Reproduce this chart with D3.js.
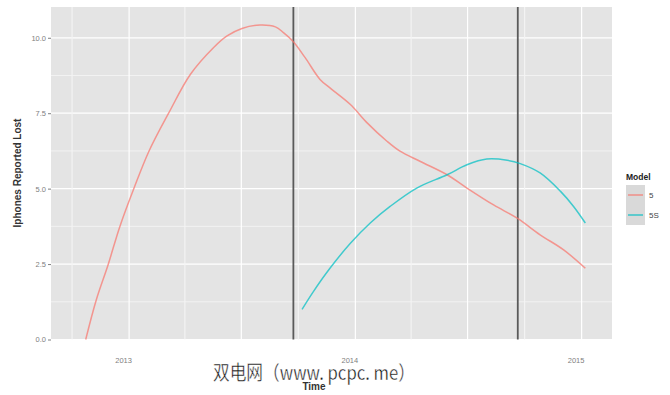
<!DOCTYPE html>
<html><head><meta charset="utf-8">
<script src="https://cdn.jsdelivr.net/npm/d3@7/dist/d3.min.js"></script>
<style>body{margin:0;background:#fff}svg{display:block}</style>
</head><body>
<svg id="c" width="670" height="395"></svg>
<script>
// ---- data ----
const modelNames = ["5", "5S"];
const model5Dates = ["2012-10-23","2012-11-09","2012-11-28","2012-12-17","2013-01-09","2013-02-02","2013-03-06","2013-04-10","2013-05-17","2013-06-08","2013-07-02","2013-07-31","2013-08-25","2013-09-07","2013-09-23","2013-10-12","2013-11-05","2013-11-21","2013-12-24","2014-01-20","2014-02-21","2014-03-14","2014-04-16","2014-05-29","2014-06-30","2014-08-12","2014-09-19","2014-10-26","2014-12-03","2015-01-07"];
const model5Values = [0.0,1.31,2.47,3.74,5.02,6.24,7.51,8.79,9.67,10.06,10.31,10.42,10.36,10.17,9.87,9.34,8.62,8.34,7.79,7.18,6.57,6.24,5.90,5.46,5.02,4.46,4.02,3.47,2.97,2.36];
const model5SDates = ["2013-10-07","2013-10-25","2013-11-21","2013-12-24","2014-01-25","2014-02-26","2014-04-10","2014-05-29","2014-06-30","2014-08-01","2014-09-03","2014-09-24","2014-10-26","2014-11-28","2014-12-19","2015-01-07"];
const model5SValues = [1.00,1.58,2.36,3.19,3.86,4.41,5.02,5.46,5.79,5.98,5.94,5.83,5.52,4.91,4.41,3.86];
const releaseDates = ["2013-09-23","2014-09-20"];
const yTicks = [0, 2.5, 5, 7.5, 10];
const xTickLabels = ["2013", "2014", "2015"];

// ---- layout ----
const svg = d3.select("#c");
const L = 51, R = 612, T = 7, B = 339.5;
const parse = d3.utcParse("%Y-%m-%d");
const x = d3.scaleUtc().domain([parse("2012-08-28"), parse("2015-02-19")]).range([L, R]);
const y = d3.scaleLinear().domain([0, 11.02]).range([B, T]);
const color = d3.scaleOrdinal().domain(modelNames).range(["#F8766D", "#00BFC4"]);

svg.append("rect").attr("x", L).attr("y", T).attr("width", R - L).attr("height", B - T).attr("fill", "#e4e4e4");

// grid
const minorY = d3.range(1.25, 11, 2.5);
svg.append("g").selectAll("line").data(minorY).join("line")
  .attr("x1", L).attr("x2", R).attr("y1", d => y(d)).attr("y2", d => y(d))
  .attr("stroke", "#f2f2f2").attr("stroke-width", 1);
svg.append("g").selectAll("line").data(yTicks).join("line")
  .attr("x1", L).attr("x2", R).attr("y1", d => y(d)).attr("y2", d => y(d))
  .attr("stroke", "#fff").attr("stroke-width", 1.2);
const qt = d3.utcMonth.every(3).range(x.domain()[0], x.domain()[1]);
svg.append("g").selectAll("line").data(qt).join("line")
  .attr("x1", d => x(d)).attr("x2", d => x(d)).attr("y1", T).attr("y2", B)
  .attr("stroke", d => (d.getUTCMonth() % 6 === 0) ? "#fff" : "#f4f4f4")
  .attr("stroke-width", d => (d.getUTCMonth() % 6 === 0) ? 1.2 : 1.1);

// release lines
svg.append("g").selectAll("line").data(releaseDates).join("line")
  .attr("x1", d => x(parse(d))).attr("x2", d => x(parse(d))).attr("y1", T).attr("y2", B)
  .attr("stroke", "#5a5a5a").attr("stroke-width", 1.8);

// series
const series = [
  {name: "5", pts: model5Dates.map((d, i) => [parse(d), model5Values[i]])},
  {name: "5S", pts: model5SDates.map((d, i) => [parse(d), model5SValues[i]])}
];
const line = d3.line().curve(d3.curveCatmullRom.alpha(0.5)).x(d => x(d[0])).y(d => y(d[1]));
svg.append("g").selectAll("path").data(series).join("path")
  .attr("d", d => line(d.pts)).attr("fill", "none")
  .attr("stroke", d => color(d.name)).attr("stroke-width", 1.5).attr("stroke-opacity", 0.72);

// y axis
const yAxis = svg.append("g").attr("transform", `translate(${L},0)`)
  .call(d3.axisLeft(y).tickValues(yTicks).tickFormat(d3.format(".1f")).tickSize(3).tickPadding(2));
yAxis.select(".domain").remove();
yAxis.selectAll("line").attr("stroke", "#7f7f7f");
yAxis.selectAll("text").attr("fill", "#808080").style("font", "7.5px 'Liberation Sans', Arial, sans-serif");

// x axis
const xTickDates = xTickLabels.map(s => d3.utcParse("%Y")(s));
const xAxis = svg.append("g").attr("transform", `translate(0,${B})`)
  .call(d3.axisBottom(x).tickValues(xTickDates).tickFormat(d3.utcFormat("%Y")).tickSize(0).tickPadding(18));
xAxis.select(".domain").remove();
xAxis.selectAll("text").attr("fill", "#808080").attr("dx", -6).style("font", "7.5px 'Liberation Sans', Arial, sans-serif");

// titles
svg.append("text").attr("transform", "translate(21,173) rotate(-90)").attr("text-anchor", "middle")
  .attr("fill", "#333").style("font", "bold 10px 'Liberation Sans', Arial, sans-serif").text("Iphones Reported Lost");
svg.append("text").attr("x", 314).attr("y", 390).attr("text-anchor", "middle")
  .attr("fill", "#333").style("font", "bold 10px 'Liberation Sans', Arial, sans-serif").text("Time");

// legend
const lg = svg.append("g");
lg.append("text").attr("x", 626).attr("y", 180).attr("fill", "#222")
  .style("font", "bold 8.5px 'Liberation Sans', Arial, sans-serif").text("Model");
const keys = lg.selectAll("g.k").data(modelNames).join("g").attr("class", "k")
  .attr("transform", (d, i) => `translate(626,${185 + i * 20})`);
keys.append("rect").attr("width", 19).attr("height", 20).attr("fill", "#d9d9d9");
keys.append("line").attr("x1", 2).attr("x2", 17).attr("y1", 10).attr("y2", 10)
  .attr("stroke", d => color(d)).attr("stroke-width", 1.6).attr("stroke-opacity", 0.7);
keys.append("text").attr("x", 23).attr("y", 13).attr("fill", "#444")
  .style("font", "8px 'Liberation Sans', Arial, sans-serif").text(d => d);

// watermark
svg.append("text").attr("x", 213).attr("y", 380).attr("textLength", 202).attr("lengthAdjust", "spacingAndGlyphs")
  .attr("fill", "#111").attr("stroke", "#fff").attr("stroke-width", 0.4)
  .style("font", "20px 'Noto Sans CJK SC', sans-serif").text("双电网（www. pcpc. me）");
</script>
</body></html>
